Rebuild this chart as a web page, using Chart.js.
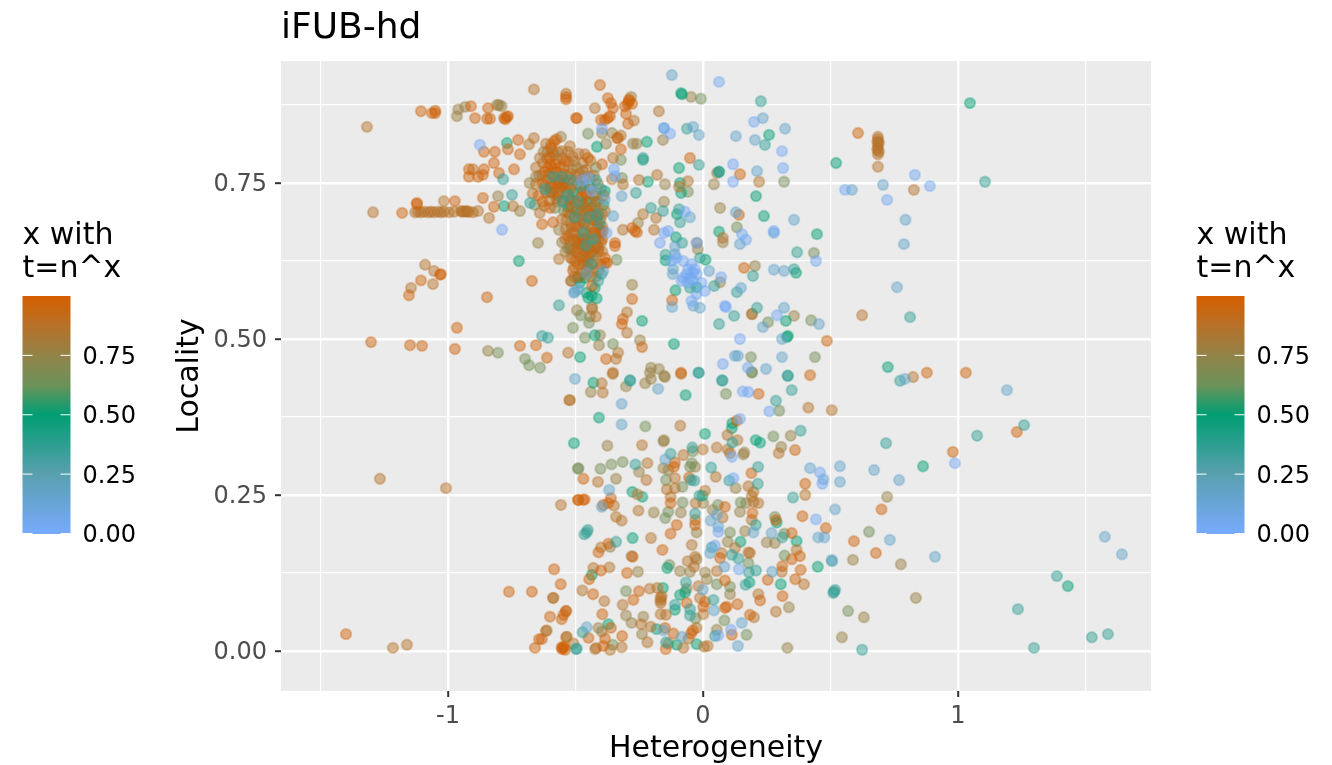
<!DOCTYPE html>
<html>
<head>
<meta charset="utf-8">
<title>iFUB-hd</title>
<script src="https://cdn.jsdelivr.net/npm/chart.js@4/dist/chart.umd.js"></script>
<style>
  html, body { margin: 0; padding: 0; background: #FFFFFF; }
  #wrap { width: 1332px; height: 765px; }
</style>
</head>
<body>
<div id="wrap"><canvas id="chart" width="1332" height="765"></canvas></div>
<script>
// Axis ticks
const xTickValues = [-1.5, -1, -0.5, 0, 0.5, 1, 1.5];
const xTickLabels = ['', '-1', '', '0', '', '1', ''];
const yTickValues = [0, 0.125, 0.25, 0.375, 0.5, 0.625, 0.75, 0.875];
const yTickLabels = ['0.00', '', '0.25', '', '0.50', '', '0.75', ''];
const legendTicks = [0, 0.25, 0.5, 0.75];
const legendTickLabels = ['0.00', '0.25', '0.50', '0.75'];

// Points, [heterogeneity, locality], grouped by colour value
const tanPoints = [
  [-.663,.900],[-.537,.893],[-1.016,.721],[-1.318,.840],[-.682,.812],[-.663,.822],[-.616,.813],[-.522,.809],
  [-.902,.772],[-1.129,.703],[-1.118,.704],[-1.106,.703],[-1.094,.704],[-1.078,.703],[-1.067,.704],[-1.055,.703],
  [-1.039,.704],[-1.027,.703],[-1.016,.704],[-.996,.703],[-.976,.704],[-.949,.705],[-.945,.704],[-.937,.704],[-.929,.705],
  [-.925,.704],[-.918,.704],[-.902,.703],[-.882,.705],[-.839,.694],[-.745,.713],[-1.294,.703],[-1.09,.619],[-1.055,.609],
  [-1.059,.588],[-1.145,.582],[-.565,.628],[-.518,.593],[-.529,.478],[-.522,.402],[-1.267,.276],[-1.008,.261],[-.557,.234],
  [-.588,.085],[-.537,.064],[-.616,.032],[-.537,.022],[-1.216,.005],[-1.161,.01],[-.424,.87],[-.173,.865],[-.271,.85],
  [-.333,.822],[-.322,.826],[-.353,.79],[-.463,.796],[-.18,.763],[-.251,.755],[-.059,.753],[-.094,.744],[-.314,.748],
  [-.357,.756],[.22,.752],[.827,.739],[-.235,.70],[-.184,.694],[-.314,.675],[-.192,.675],[.078,.662],[-.298,.543],
  [-.435,.548],[-.42,.536],[-.298,.51],[-.333,.478],[-.341,.468],[-.353,.446],[.192,.54],[.624,.538],[.824,.439],
  [.686,.824],[.686,.820],[.69,.815],[.686,.811],[.686,.806],[.69,.800],[.686,.796],[.686,.776],[.684,.816],[.684,.803],
  [-.397,.429],[-.393,.414],[-.354,.444],[-.086,.444],[-.524,.402],[.413,.390],[.505,.386],[-.089,.361],[.096,.346],
  [.135,.338],[-.239,.330],[-.001,.323],[.297,.317],[.054,.326],[.097,.323],[.106,.317],[-.077,.314],[-.218,.301],
  [-.412,.271],[-.222,.274],[-.110,.277],[.050,.279],[.178,.264],[-.142,.259],[-.110,.261],[-.257,.251],[.008,.257],
  [.198,.255],[.191,.248],[.401,.250],[-.349,.233],[-.127,.247],[-.029,.237],[.198,.239],[.217,.237],[-.253,.225],
  [-.341,.215],[-.319,.209],[-.030,.210],[.077,.214],[.191,.210],[-.204,.181],[-.044,.170],[-.400,.166],[.126,.165],
  [.073,.157],[.178,.158],[.184,.157],[.367,.162],[-.060,.144],[-.031,.151],[-.430,.133],[-.367,.134],[-.035,.135],
  [.054,.128],[.309,.127],[.396,.107],[-.473,.097],[-.209,.100],[-.179,.101],[-.018,.104],[.217,.091],[-.587,.085],
  [-.387,.080],[-.315,.074],[-.166,.085],[-.162,.088],[-.166,.081],[-.166,.077],[-.012,.085],[-.166,.059],[-.145,.058],
  [.001,.059],[.200,.054],[.286,.063],[-.243,.043],[-.205,.039],[-.025,.037],[-.613,.033],[-.534,.023],[-.057,.020],
  [-.508,.012],[-.218,.014],[-.423,.003],[-.419,.005],[-.364,.002],[-.319,.006],[-.077,.005],[.004,.007],[.018,.008],
  // dense cluster
  [-.64,.702],[-.622,.713],[-.603,.722],[-.581,.741],[-.563,.733],[-.548,.722],[-.538,.742],[-.527,.724],[-.519,.741],
  [-.508,.753],[-.502,.718],[-.488,.706],[-.479,.716],[-.472,.698],[-.458,.711],[-.452,.694],[-.441,.721],[-.428,.704],
  [-.423,.712],[-.408,.701],[-.553,.692],[-.538,.676],[-.531,.703],[-.518,.684],[-.507,.671],[-.503,.696],[-.491,.681],
  [-.482,.664],[-.469,.687],[-.461,.669],[-.448,.682],[-.442,.664],[-.431,.679],[-.418,.667],[-.412,.682],[-.402,.691],
  [-.522,.657],[-.509,.643],[-.498,.656],[-.492,.638],[-.481,.652],[-.468,.634],[-.462,.651],[-.449,.638],[-.438,.652],
  [-.429,.634],[-.421,.646],[-.409,.662],[-.512,.628],[-.488,.619],[-.472,.606],[-.451,.614],[-.432,.609],[-.572,.788],
  [-.553,.801],[-.529,.784],[-.511,.792],[-.488,.797],[-.472,.782],[-.458,.771],[-.441,.786],[-.428,.762],[-.412,.748],
  [-.592,.744],[-.612,.79],[-.628,.782],[-.642,.762],[-.655,.748],[-.668,.733],[-.532,.762],[-.512,.772],[-.492,.748],
  [-.655,.775],[-.64,.79],[-.61,.80],[-.595,.812],[-.57,.80],[-.55,.79],[-.53,.80],[-.505,.785],[-.485,.765],[-.47,.77],
  [-.56,.74],[-.545,.755],[-.52,.765],[-.50,.762],[-.48,.755],[-.445,.76],[-.43,.73],[-.41,.72],[-.39,.73],[-.385,.705],
  [-.395,.68],[-.40,.655],[-.52,.63],[-.505,.60],[-.48,.60],[-.46,.61],[-.44,.60],[-.42,.60],[-.40,.62],[-.395,.64],
  [-.54,.66],[-.53,.645],[-.515,.68],[-.535,.69],[-.49,.695],[-.475,.675],[-.455,.66],[-.435,.64],[-.51,.66],[-.47,.65],
  [-.45,.625],[-.43,.62],[-.41,.61],[-.48,.63],[-.50,.64]
];
const olivePoints = [
  [-.96,.868],[-.965,.857],[-.933,.872],[-.808,.875],[-.80,.875],[-.79,.873],[-.718,.705],[-.804,.729],[-.647,.654],
  [-.494,.546],[-.557,.824],[-.282,.888],[-.047,.888],[-.396,.83],[-.357,.83],[-.38,.813],[-.275,.813],[-.26,.813],
  [-.157,.819],[.055,.766],[.043,.748],[-.149,.748],[.067,.71],[-.153,.72],[-.255,.686],[.078,.655],[-.024,.654],
  [-.02,.644],[.204,.617],[.067,.591],[-.278,.587],[-.435,.551],[-.443,.536],[-.408,.49],[-.247,.498],[-.404,.506],
  [-.204,.454],[-.173,.452],[-.208,.446],[-.153,.441],[.357,.537],[-.515,.593],[.776,.139],[.722,.247],[.835,.085],
  [.631,.054],[.545,.022],[.588,.146],[-.843,.481],[.192,.54],
  [-.440,.415],[-.227,.429],[-.204,.436],[-.149,.439],[-.302,.424],[-.375,.329],[-.155,.336],[-.153,.338],[.344,.345],
  [.307,.327],[.158,.315],[.162,.318],[-.031,.295],[-.155,.293],[-.136,.290],[-.251,.287],[-.341,.276],[.128,.261],
  [.001,.237],[.169,.237],[-.193,.222],[-.087,.222],[.038,.226],[.145,.223],[-.025,.190],[.165,.192],[.097,.175],
  [.250,.174],[.282,.173],[-.364,.167],[-.280,.152],[-.025,.147],[-.255,.127],[-.090,.128],[-.051,.127],[.008,.126],
  [-.064,.100],[.015,.115],[.106,.091],[-.302,.057],[-.234,.055],[.337,.070],[-.410,.037],[-.397,.031],[-.280,.045],
  [-.239,.027],[.054,.034],[-.136,.012],[.331,.005],
  // dense cluster
  [-.60,.742],[-.57,.72],[-.56,.75],[-.535,.735],[-.515,.71],[-.497,.735],[-.47,.715],[-.455,.73],[-.43,.69],[-.395,.70],
  [-.565,.675],[-.553,.655],[-.54,.64],[-.52,.67],[-.505,.615],[-.48,.69],[-.46,.64],[-.425,.625],[-.41,.64],[-.68,.75],
  [-.655,.76],[-.625,.80],[-.585,.795],[-.545,.775],[-.52,.725],[-.44,.74],[-.42,.73],[-.49,.60]
];
const sagePoints = [
  [-.804,.478],[-.698,.468],[-.682,.458],[-.639,.454],[-.51,.518],[-.49,.292],[-.008,.885],[-.451,.829],[-.322,.787],
  [-.318,.758],[.318,.752],[.133,.679],[.435,.638],[.255,.527],[.424,.53],[.188,.471],[.439,.471],[.192,.447],[-.339,.627],
  [-.463,.502],[-.353,.492],[-.447,.526],[-.059,.736],[-.48,.538],[.569,.064],[.651,.191],
  [.192,.446],[.090,.412],[.299,.385],[-.226,.360],[.276,.344],[-.040,.320],[-.489,.293],[-.402,.292],[-.359,.299],
  [-.315,.303],[-.044,.301],[-.051,.295],[-.145,.274],[-.081,.263],[-.080,.238],[.059,.234],[.148,.238],[-.136,.223],
  [-.148,.213],[.282,.215],[.106,.190],[.319,.188],[.320,.153],[-.132,.138],[.178,.141],[-.302,.096],[.054,.107],
  [.106,.103],[-.029,.052],[.084,.049],[.171,.026],[-.354,.010],
  // dense cluster
  [-.66,.715],[-.62,.745],[-.58,.71],[-.545,.705],[-.495,.775],[-.465,.76],[-.445,.67],[-.42,.775],[-.63,.762],[-.59,.80]
];
const greenPoints = [
  [-.769,.814],[-.78,.713],[-.722,.625],[-.482,.471],[-.086,.894],[-.082,.892],[-.416,.808],[-.22,.816],[-.235,.787],
  [-.094,.774],[-.216,.752],[-.09,.75],[-.086,.734],[.063,.672],[.208,.729],[.239,.697],[.259,.827],[.447,.668],[.522,.782],
  [1.047,.878],[.365,.606],[-.239,.529],[-.424,.506],[-.114,.492],[.329,.503],[.333,.505],[.325,.529],[.725,.455],[.063,.768],
  [-.506,.333],[-.106,.663],[-.147,.626],[-.025,.583],[-.108,.578],[.010,.627],[-.102,.70],[1.431,.104],[.863,.296],
  [-.430,.430],[-.068,.410],[-.408,.374],[.008,.348],[.115,.365],[.113,.357],[.207,.338],[.224,.334],[-.277,.255],
  [-.238,.247],[-.002,.249],[.289,.206],[-.276,.181],[.147,.175],[.367,.176],[-.140,.133],[.450,.135],[-.157,.101],
  [.305,.107],[.182,.110],[-.090,.090],[-.070,.094],[-.110,.066],[-.371,.043],[-.182,.035],[-.103,.010],[-.025,.011],[-.436,.122],
  // dense cluster
  [-.489,.598],[-.483,.590],[-.450,.566],[-.437,.569],[-.417,.565],[-.457,.574],[-.470,.625],[-.443,.636],[-.424,.582],
  [-.463,.598],[-.385,.737],[-.60,.735],[-.57,.73],[-.548,.748],[-.53,.712],[-.51,.735],[-.495,.705],[-.475,.705],[-.455,.72],
  [-.435,.712],[-.415,.695],[-.40,.67],[-.52,.645],[-.49,.655],[-.465,.685],[-.45,.655],[-.415,.65],[-.42,.72],[-.39,.715]
];
const tealPoints = [
  [-.784,.756],[-.749,.731],[-.678,.718],[-.565,.554],[-.631,.505],[-.608,.502],[.227,.881],[.243,.811],[-.063,.837],[-.016,.779],
  [.063,.768],[-.263,.734],[-.204,.71],[-.157,.705],[-.094,.708],[-.09,.687],[.133,.575],[.196,.601],[.357,.612],[.369,.639],
  [-.082,.654],[-.147,.635],[-.051,.582],[.044,.585],[-.012,.630],[.063,.524],[.122,.537],[.212,.55],[.333,.441],[.075,.434],
  [-.016,.446],[-.286,.434],[.812,.535],[.773,.433],[1.106,.752],[1.259,.362],[1.075,.345],[.718,.333],[.506,.144],[.514,.095],
  [.624,.002],[1.235,.067],[1.298,.005],[1.525,.022],[1.588,.027],[1.388,.12],[-.498,.003],[-.235,.79],
  [-.286,.433],[-.018,.446],[.076,.433],[.332,.441],[.348,.418],[.286,.401],[.383,.353],[.115,.334],[-.042,.326],
  [-.127,.316],[-.265,.299],[.032,.294],[.216,.295],[-.047,.274],[-.034,.273],[.103,.273],[.215,.268],[-.014,.249],
  [.353,.246],[-.031,.220],[.207,.202],[.311,.182],[-.452,.194],[-.465,.187],[-.456,.190],[-.341,.175],[.034,.166],
  [.113,.154],[.139,.148],[.180,.126],[.208,.129],[.167,.106],[-.067,.110],[.041,.082],[-.110,.074],[-.051,.067],
  [-.051,.057],[.511,.093],[.518,.098],[-.472,.030],[-.145,.014],[.047,.024],[-.495,.004],
  // dense cluster
  [-.398,.604],[-.411,.593],[-.62,.74],[-.59,.76],[-.555,.76],[-.52,.755],[-.48,.745],[-.445,.745],[-.42,.755],[-.40,.74],
  [-.55,.72],[-.505,.695],[-.47,.67],[-.43,.66],[-.405,.685],[-.53,.73],[-.49,.72],[-.45,.695],[-.46,.65],[-.415,.70],[-.44,.62]
];
const skyPoints = [
  [-.502,.436],[-.122,.923],[.235,.854],[.322,.837],[.129,.825],[.204,.819],[.212,.769],[-.039,.84],[-.016,.827],[-.153,.838],
  [.145,.652],[.129,.703],[.794,.691],[.357,.691],[-.051,.695],[.278,.67],[.024,.609],[.149,.582],[.278,.611],[.318,.609],
  [.235,.519],[.31,.5],[.318,.55],[.31,.471],[.125,.473],[.137,.473],[.247,.452],[.455,.524],[.706,.747],[.584,.739],[.788,.652],
  [.761,.583],[.792,.436],[-.506,.574],[-.502,.576],[-.489,.580],[-.457,.606],[-.391,.609],[-.385,.724],[-.319,.729],[-.352,.697],
  [-.117,.612],[-.119,.604],[-.121,.551],[-.110,.648],[-.110,.636],[-.038,.553],[-.012,.550],[1.192,.418],[.671,.29],[.769,.274],
  [.733,.178],[1.576,.183],[1.643,.155],[.91,.151],[.537,.296],
  [-.176,.420],[-.319,.396],[-.319,.363],[-.148,.307],[.420,.293],[.537,.271],[.472,.275],[.060,.199],[.030,.209],[.054,.218],
  [.198,.190],[.269,.189],[-.397,.231],[-.368,.258],[.518,.227],[.452,.182],[.476,.182],[.505,.146],[.028,.157],[.084,.135],
  [.271,.127],[-.001,.098],[.043,.065],[-.456,.038],[-.155,.033],[.152,.045],[-.083,.023],[.137,.008]
];
const bluePoints = [
  [-.875,.811],[-.788,.675],[-.396,.837],[-.153,.838],[-.129,.829],[.063,.912],[.2,.848],[.31,.801],[.118,.78],[.314,.774],
  [.118,.752],[-.349,.772],[-.345,.761],[-.476,.754],[-.451,.758],[-.437,.737],[-.378,.670],[-.071,.704],[-.153,.67],[-.137,.673],
  [-.169,.654],[.153,.668],[.169,.659],[.278,.673],[.443,.625],[.071,.599],[.086,.553],[.09,.551],[.29,.538],[.145,.5],[.078,.46],
  [.176,.454],[.557,.739],[.831,.763],[.89,.745],[.722,.723],[.988,.301],[-.024,.654],
  [-.058,.612],[-.045,.620],[-.032,.612],[-.065,.604],[-.078,.598],[-.051,.598],[-.025,.604],[-.038,.593],[-.006,.590],[.007,.577],
  [-.025,.572],[-.045,.561],[-.078,.625],[-.104,.630],[-.123,.625],[-.084,.593],[-.06,.59],[-.04,.606],
  [.156,.416],[.178,.415],[.260,.384],[.145,.372],[.113,.311],[.119,.277],[.459,.286],[.468,.268],[.443,.211],[.060,.191],
  [.047,.169],[.141,.131],[.110,.034],[.060,.025]
];
const orangePoints = [
  [-.537,.888],[-.537,.884],[-1.05,.866],[-1.05,.862],[-1.106,.865],[-1.063,.862],[-.91,.873],[-.894,.854],[-.843,.870],[-.847,.853],
  [-.835,.853],[-.78,.854],[-.775,.852],[-.77,.856],[-.765,.857],[-.725,.819],[-.765,.804],[-.859,.80],[-.816,.80],[-.718,.796],
  [-.82,.782],[-.80,.766],[-.741,.772],[-.859,.772],[-.918,.772],[-.918,.76],[-.882,.76],[-.863,.763],[-1.122,.718],[-1.122,.716],
  [-.973,.721],[-.863,.726],[-1.18,.702],[-.82,.712],[-.631,.684],[-.588,.687],[-1.031,.603],[-1.028,.604],[-1.106,.594],[-1.153,.570],
  [-.847,.567],[-.671,.593],[-.965,.518],[-1.302,.495],[-1.149,.49],[-1.102,.489],[-.973,.484],[-.718,.489],[-.655,.49],[-.612,.47],
  [-.498,.854],[-.584,.817],[-.596,.806],[-.575,.82],
  [-.404,.907],[-.373,.886],[-.361,.878],[-.353,.870],[-.29,.881],[-.306,.873],[-.278,.877],[-.295,.877],[-.29,.884],[-.302,.861],
  [-.294,.845],[-.494,.854],[-.373,.854],[-.4,.851],[-.385,.851],[-.365,.857],[-.337,.822],[-.322,.804],[-.396,.78],[-.451,.79],
  [-.051,.79],[.145,.764],[-.278,.678],[-.267,.673],[-.259,.671],[.141,.699],[.161,.614],[-.278,.564],[-.314,.532],[-.318,.524],
  [-.239,.487],[-.38,.468],[-.086,.446],[-.121,.562],[-.392,.673],[-.345,.654],[-.345,.649],[-.384,.622],[-.376,.622],[-.435,.585],
  [.608,.83],[.486,.497],[.878,.446],[1.031,.446],[1.231,.351],[.980,.319],[.592,.176],[.678,.157],[.7,.227],
  [-.761,.095],[-.671,.095],[-.643,.019],[-.659,.005],[-.549,.005],[-.545,.007],[-.553,.003],[-1.4,.027],[-.49,.242],[-.47,.242],
  [.420,.442],[.218,.412],[.132,.369],[.361,.322],[-.110,.302],[-.114,.295],[.190,.285],[-.469,.276],[.401,.268],[-.489,.242],
  [-.464,.243],[-.361,.245],[-.371,.237],[-.391,.234],[-.127,.237],[.086,.231],[.194,.221],[.390,.216],[.286,.210],[.482,.197],
  [-.103,.202],[-.031,.202],[-.127,.188],[.348,.189],[-.159,.162],[-.371,.172],[-.410,.158],[-.276,.151],[.380,.152],[.348,.147],
  [.067,.149],[-.584,.131],[-.400,.129],[-.446,.115],[-.298,.125],[.311,.136],[.383,.130],[.362,.115],[.254,.114],[-.558,.107],
  [-.431,.091],[-.251,.096],[.086,.113],[.224,.081],[.312,.088],[-.273,.082],[-.064,.077],[.008,.079],[.135,.075],[.086,.069],
  [.093,.071],[.001,.071],[-.537,.064],[-.547,.058],[-.554,.051],[-.600,.055],[-.395,.059],[.184,.058],[-.361,.037],[-.149,.037],
  [-.040,.033],[-.449,.021],[-.384,.020],[-.317,.024],[-.116,.028],[-.047,.028],[.113,.026],[-.632,.019],[-.554,.006],[-.541,.002],
  [-.391,.008],[-.146,.003],[-.055,.278],
  // dense cluster
  [-.62,.768],[-.61,.775],[-.60,.78],[-.60,.766],[-.59,.773],[-.585,.76],[-.58,.78],[-.575,.768],[-.565,.755],[-.61,.755],
  [-.595,.75],[-.56,.775],[-.55,.765],[-.54,.785],[-.53,.75],[-.645,.73],[-.63,.72],[-.615,.735],[-.60,.71],[-.47,.737],[-.475,.728],
  [-.465,.745],[-.46,.733],[-.52,.70],[-.50,.68],[-.49,.66],[-.53,.665],[-.44,.70],[-.42,.69],[-.405,.675],[-.395,.66],[-.41,.645],
  [-.50,.625],[-.47,.62],[-.385,.63],[-.63,.75],[-.6,.79],[-.57,.75],[-.59,.735],[-.575,.725],[-.55,.745],[-.52,.72],[-.48,.72],
  [-.45,.705],[-.43,.67],[-.47,.66],[-.49,.645],[-.45,.645],[-.51,.61],[-.46,.63]
];

const bandValues = { tan: 0.87, olive: 0.77, sage: 0.65, green: 0.5, teal: 0.36, orange: 0.97, sky: 0.17, blue: 0.04 };

// Colour ramp of the bar, sampled at these positions
const rampStops = [0, 0.25, 0.5, 0.625, 0.75, 0.875, 1];
const rampColors = [[119,170,255], [90,160,175], [0,158,115], [108,146,90], [146,131,72], [183,113,40], [213,94,0]];

function rampColor(t, alpha) {
    let i = 0;
    while (i < rampStops.length - 2 && t > rampStops[i + 1]) i++;
    const f = (t - rampStops[i]) / (rampStops[i + 1] - rampStops[i]);
    const c = rampColors[i].map((v, k) => Math.round(v + (rampColors[i + 1][k] - v) * f));
    return 'rgba(' + c[0] + ',' + c[1] + ',' + c[2] + ',' + alpha + ')';
}

function band(name, points) {
    const t = bandValues[name];
    return {
        label: name,
        data: points.map(p => ({ x: p[0], y: p[1] })),
        backgroundColor: rampColor(t, 0.48),
        borderColor: rampColor(t, 0.34),
        borderWidth: 2,
        pointRadius: 5.2
    };
}

const fontFamily = '"DejaVu Sans", sans-serif';

// Grey panel behind the grid
const panelPlugin = {
    id: 'panel',
    beforeDraw(chart) {
        const a = chart.chartArea;
        chart.ctx.save();
        chart.ctx.fillStyle = '#EBEBEB';
        chart.ctx.fillRect(a.left, a.top, a.right - a.left, a.bottom - a.top);
        chart.ctx.restore();
    }
};

// Two colour bars, left and right of the plot
function drawColorBar(ctx, left) {
    const top = 296, bottom = 534, width = 48;
    const grad = ctx.createLinearGradient(0, bottom, 0, top);
    rampStops.forEach(s => grad.addColorStop(s, rampColor(s, 1)));
    ctx.fillStyle = grad;
    ctx.fillRect(left, top, width, bottom - top);

    ctx.fillStyle = '#000000';
    ctx.font = '30px ' + fontFamily;
    ctx.textAlign = 'left';
    ctx.textBaseline = 'alphabetic';
    ctx.fillText('x with', left, 244);
    ctx.fillText('t=n^x', left, 277);

    ctx.font = '24px ' + fontFamily;
    ctx.textBaseline = 'middle';
    legendTicks.forEach((v, i) => {
        const y = bottom - 0.5 - v * 237.5;
        ctx.strokeStyle = '#FFFFFF';
        ctx.lineWidth = 1;
        ctx.beginPath();
        ctx.moveTo(left, y);
        ctx.lineTo(left + 10, y);
        ctx.moveTo(left + width - 10, y);
        ctx.lineTo(left + width, y);
        ctx.stroke();
        ctx.fillStyle = '#000000';
        ctx.fillText(legendTickLabels[i], left + 60, y + 2.5);
    });
}

const legendPlugin = {
    id: 'colorBars',
    afterDraw(chart) {
        const ctx = chart.ctx;
        ctx.save();
        drawColorBar(ctx, 22.5);
        drawColorBar(ctx, 1196.5);
        ctx.restore();
    }
};

new Chart(document.getElementById('chart'), {
    type: 'scatter',
    data: {
        // first dataset is drawn last
        datasets: [
            band('blue', bluePoints),
            band('sky', skyPoints),
            band('teal', tealPoints),
            band('orange', orangePoints),
            band('tan', tanPoints),
            band('green', greenPoints),
            band('sage', sagePoints),
            band('olive', olivePoints)
        ]
    },
    options: {
        responsive: false,
        animation: false,
        layout: { padding: { left: 0, right: 181, top: 0, bottom: 0 } },
        plugins: {
            legend: { display: false },
            tooltip: { enabled: false },
            title: {
                display: true,
                text: 'iFUB-hd',
                align: 'start',
                fullSize: false,
                color: '#000000',
                font: { family: fontFamily, size: 36, weight: 'normal' },
                padding: { top: 7, bottom: 10.8 }
            }
        },
        scales: {
            x: {
                type: 'linear',
                min: -1.655,
                max: 1.757,
                afterBuildTicks: scale => { scale.ticks = xTickValues.map(value => ({ value })); },
                afterFit: scale => { scale.height = 74; },
                grid: {
                    color: '#FFFFFF',
                    lineWidth: c => (c.index % 2 === 1 ? 2.4 : 1.2),
                    tickColor: c => (c.index % 2 === 1 ? '#333333' : 'rgba(0,0,0,0)'),
                    tickLength: 6,
                    tickWidth: 2
                },
                border: { display: false },
                ticks: {
                    autoSkip: false,
                    maxRotation: 0,
                    color: '#4D4D4D',
                    padding: 5,
                    font: { family: fontFamily, size: 24 },
                    callback: (value, i) => xTickLabels[i]
                },
                title: {
                    display: true,
                    text: 'Heterogeneity',
                    color: '#000000',
                    font: { family: fontFamily, size: 30 },
                    padding: { top: 1, bottom: -2 }
                }
            },
            y: {
                type: 'linear',
                min: -0.0641,
                max: 0.9455,
                afterBuildTicks: scale => { scale.ticks = yTickValues.map(value => ({ value })); },
                afterFit: scale => { scale.width = 281; },
                grid: {
                    color: '#FFFFFF',
                    lineWidth: c => (c.index % 2 === 0 ? 2.4 : 1.2),
                    tickColor: c => (c.index % 2 === 0 ? '#333333' : 'rgba(0,0,0,0)'),
                    tickLength: 6,
                    tickWidth: 2
                },
                border: { display: false },
                ticks: {
                    autoSkip: false,
                    color: '#4D4D4D',
                    padding: 8,
                    labelOffset: 2,
                    font: { family: fontFamily, size: 24 },
                    callback: (value, i) => yTickLabels[i]
                },
                title: {
                    display: true,
                    text: 'Locality',
                    color: '#000000',
                    font: { family: fontFamily, size: 30 },
                    padding: { top: 172, bottom: 0 }
                }
            }
        }
    },
    plugins: [panelPlugin, legendPlugin]
});
</script>
</body>
</html>
